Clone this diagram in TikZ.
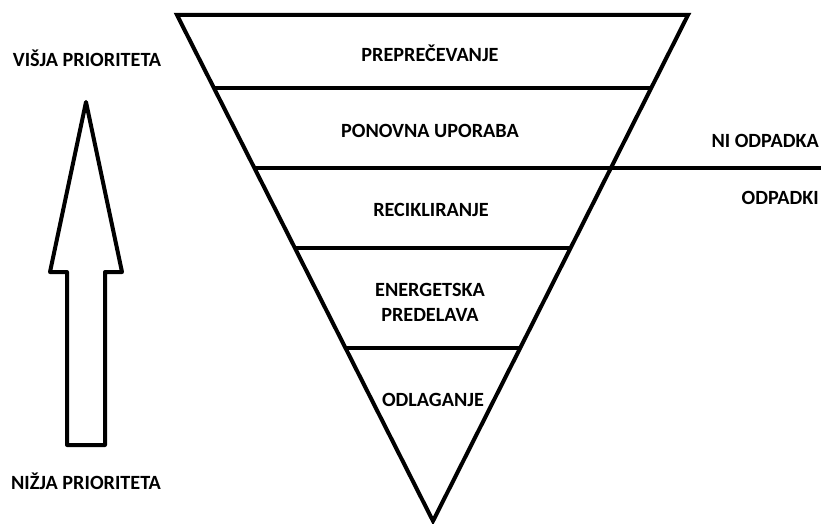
\documentclass[tikz,border=0pt]{standalone}
\usepackage{fontspec}
\setmainfont{Carlito}
\usetikzlibrary{calc}

\begin{document}
\begin{tikzpicture}[
    x=1pt, y=-1pt,
    edge/.style={
      line width=4pt
    },
    label/.style={
      font=\bfseries\fontsize{20.2}{24}\selectfont, anchor=base, inner sep=0pt
    }
    ]
  \useasboundingbox (0,0) rectangle (821,524);
  % inverted pyramid
  \coordinate (tl) at (177,15);
  \coordinate (tr) at (688,15);
  \coordinate (apex) at (433,521);
  \draw[edge] (tl) -- (tr) -- (apex) -- cycle;
  % level lines
  \foreach \name/\t in {l1/0.1443, l2/0.3024, l3/0.4605, l4/0.6581} {
    \coordinate (\name a) at ($(tl)!\t!(apex)$);
    \coordinate (\name b) at ($(tr)!\t!(apex)$);
  }
  \coordinate (l2c) at (821,0 |- l2a);
  \draw[edge] (l1a) -- (l1b);
  \draw[edge] (l2a) -- (l2c);
  \draw[edge] (l3a) -- (l3b);
  \draw[edge] (l4a) -- (l4b);
  % level texts
  \node[label] (n1) at (430,62) {PREPREČEVANJE};
  \node[label] (n2) at (430,137) {PONOVNA UPORABA};
  \node[label] (n3) at (431,216) {RECIKLIRANJE};
  \node[label] (n4) at (430,296) {ENERGETSKA};
  \node[label] (n5) at (430,321) {PREDELAVA};
  \node[label] (n6) at (433,406) {ODLAGANJE};
  \node[label, anchor=base east] (ni) at (819,147) {NI ODPADKA};
  \node[label, anchor=base east] (od) at (819,204) {ODPADKI};
  % priority arrow
  \draw[edge, line join=round] (67,445) -- (67,272) -- (50,272) -- (86,102)
    -- (122,272) -- (105,272) -- (105,445) -- cycle;
  \node[label] (hi) at (87,67) {VIŠJA PRIORITETA};
  \node[label] (lo) at (86,489) {NIŽJA PRIORITETA};
\end{tikzpicture}
\end{document}
